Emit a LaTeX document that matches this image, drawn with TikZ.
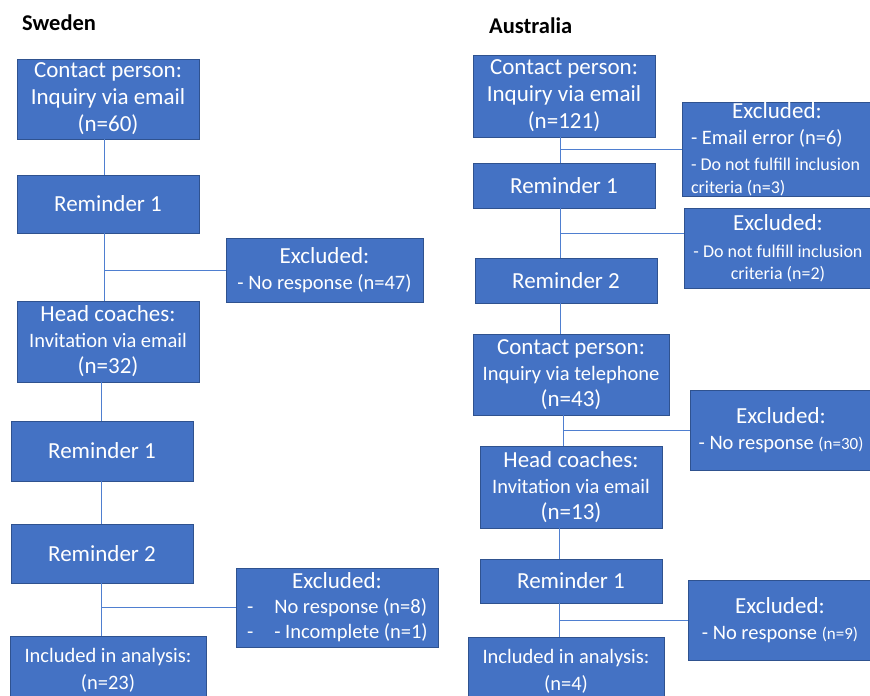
\documentclass[tikz,border=0pt]{standalone}
\usepackage{fontspec}
\setmainfont{Carlito}
\usepackage{xcolor}
\usetikzlibrary{calc}

\definecolor{boxblue}{HTML}{4472C4}
\definecolor{boxedge}{HTML}{2F528F}
\definecolor{linkblue}{HTML}{4F7FD0}

\newcommand{\subline}[1]{{\fontsize{20.5}{25}\selectfont #1}}
\newcommand{\smallline}[1]{{\fontsize{18}{22}\selectfont #1}}
\newcommand{\tinyline}[1]{{\fontsize{17}{22}\selectfont #1}}

\begin{document}
\begin{tikzpicture}[x=1pt, y=-1pt,
        stage/.style={draw=boxedge, line width=0.9pt, fill=boxblue, text=white, inner sep=0pt, align=center, font=\fontsize{23}{26}\selectfont},
        title/.style={anchor=west, inner sep=0pt, font=\bfseries\fontsize{22.5}{26}\selectfont},
        link/.style={draw=linkblue, line width=1pt}
    ]
        \clip (0,0) rectangle (870,696);
        % Sweden
        \node (sT) [title] at (22,23) {Sweden};
        \node (s1) [stage, minimum width=182, minimum height=80] at (108,99) {Contact person:\\[1pt]Inquiry via email\\[1pt](n=60)};
        \node (s2) [stage, minimum width=182, minimum height=58] at (108,204) {Reminder 1};
        \node (se1) [stage, minimum width=197, minimum height=64] at (324.5,270) {Excluded:\\\subline{- No response (n=47)}};
        \node (sh) [stage, minimum width=182, minimum height=81] at (108,341.5) {Head coaches:\\\subline{Invitation via email}\\(n=32)};
        \node (sr1) [stage, minimum width=182, minimum height=60] at (102,451) {Reminder 1};
        \node (sr2) [stage, minimum width=182, minimum height=59] at (102,553.5) {Reminder 2};
        \node (se2) [stage, minimum width=202, minimum height=79] at (337,607.5) {Excluded:\\[-1pt]\subline{\makebox[180pt][l]{-\hspace{21pt}No response (n=8)}}\\[-1pt]\subline{\makebox[180pt][l]{-\hspace{21pt}- Incomplete (n=1)}}};
        \node (si) [stage, minimum width=196, minimum height=68] at (108,670) {\subline{Included in analysis:}\\[1pt]\subline{(n=23)}};
        \coordinate (sTop) at (104,0);
        \coordinate (sLow) at (101,0);
        \draw [link] (s1.south -| sTop) -- (s2.north -| sTop);
        \draw [link] (s2.south -| sTop) -- (sh.north -| sTop);
        \draw [link] (se1.west -| sTop) -- (se1.west);
        \draw [link] (sh.south -| sLow) -- (sr1.north -| sLow);
        \draw [link] (sr1.south -| sLow) -- (sr2.north -| sLow);
        \draw [link] (sr2.south -| sLow) -- (si.north -| sLow);
        \draw [link] (se2.west -| sLow) -- (se2.west);
        % Australia
        \node (aT) [title] at (489,26) {Australia};
        \node (a1) [stage, minimum width=182, minimum height=82] at (564,96) {Contact person:\\[1pt]Inquiry via email\\[1pt](n=121)};
        \node (ae1) [stage, minimum width=190, minimum height=94] at (777,149) {Excluded:\\\subline{\makebox[172pt][l]{- Email error (n=6)}}\\\smallline{\makebox[172pt][l]{- Do not fulfill inclusion}}\\[-3pt]\smallline{\makebox[172pt][l]{criteria (n=3)}}};
        \node (ar1) [stage, minimum width=182, minimum height=45] at (564,185.5) {Reminder 1};
        \node (ae2) [stage, minimum width=188, minimum height=80] at (778,248) {Excluded:\\[1pt]\smallline{- Do not fulfill inclusion}\\[-4pt]\smallline{criteria (n=2)}};
        \node (ar2) [stage, minimum width=182, minimum height=45] at (566,280.5) {Reminder 2};
        \node (a2) [stage, minimum width=196, minimum height=81] at (571,374.5) {Contact person:\\\subline{Inquiry via telephone}\\(n=43)};
        \node (ae3) [stage, minimum width=182, minimum height=80] at (781,430) {Excluded:\\\subline{- No response \tinyline{(n=30)}}};
        \node (ah) [stage, minimum width=182, minimum height=82] at (571,487) {Head coaches:\\\subline{Invitation via email}\\(n=13)};
        \node (ar3) [stage, minimum width=182, minimum height=44] at (571,581) {Reminder 1};
        \node (ae4) [stage, minimum width=184, minimum height=80] at (780,620) {Excluded:\\\subline{- No response \tinyline{(n=9)}}};
        \node (ai) [stage, minimum width=196, minimum height=68] at (566,671) {\subline{Included in analysis:}\\[1pt]\subline{(n=4)}};
        \coordinate (aTop) at (560,0);
        \coordinate (aMid) at (563,0);
        \coordinate (aLow) at (559,0);
        \coordinate (ab2) at ($(ar1.south -| aTop)!0.5!(ar2.north -| aTop)$);
        \draw [link] (a1.south -| aTop) -- (ar1.north -| aTop);
        \draw [link] (ae1.west -| aTop) -- (ae1.west);
        \draw [link] (ar1.south -| aTop) -- (ar2.north -| aTop);
        \draw [link] (ab2) -- (ab2 -| ae2.west);
        \draw [link] (ar2.south -| aTop) -- (a2.north -| aTop);
        \draw [link] (a2.south -| aMid) -- (ah.north -| aMid);
        \draw [link] (ae3.west -| aMid) -- (ae3.west);
        \draw [link] (ah.south -| aLow) -- (ar3.north -| aLow);
        \draw [link] (ar3.south -| aLow) -- (ai.north -| aLow);
        \draw [link] (ae4.west -| aLow) -- (ae4.west);
    \end{tikzpicture}
\end{document}
